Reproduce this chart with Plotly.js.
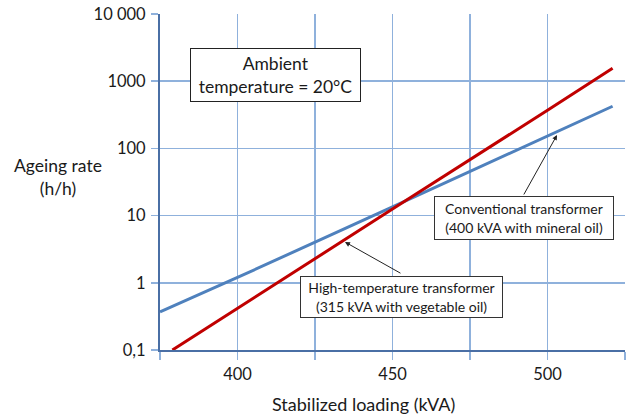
<!DOCTYPE html>
<html>
<head>
<meta charset="utf-8">
<script src="https://cdn.plot.ly/plotly-3.0.1.min.js"></script>
<style>html,body{margin:0;padding:0;background:#fff;}#chart{width:626px;height:414px;}</style>
</head>
<body>
<div id="chart"></div>
<script>
// Data (stabilized loading in kVA, ageing rate in h/h)
const conventionalLoading = [375, 400, 450, 500, 521];
const conventionalAgeing = [0.37, 1.2, 13.5, 150, 424];
const highTempLoading = [379, 400, 450, 500, 521];
const highTempAgeing = [0.1, 0.42, 12.5, 370, 1560];

const xTickVals = [375, 400, 425, 450, 475, 500, 525];
const xTickText = ['', '400', '', '450', '', '500', ''];
const yTickVals = [0.1, 1, 10, 100, 1000, 10000];
const yTickText = ['0,1', '1', '10', '100', '1000', '10 000'];

const FONT = 'Lato, "Open Sans", sans-serif';
const GRID = '#8fb1dc';
const AXIS = '#4a6fa5';
const TXT = '#1a1a1a';

const traces = [
  {x: conventionalLoading, y: conventionalAgeing, mode: 'lines', line: {color: '#4f81bd', width: 3}, name: 'Conventional transformer'},
  {x: highTempLoading, y: highTempAgeing, mode: 'lines', line: {color: '#c00000', width: 3}, name: 'High-temperature transformer'}
];

const layout = {
  width: 626, height: 414,
  margin: {l: 160, r: 1, t: 14, b: 64},
  paper_bgcolor: '#fff', plot_bgcolor: '#fff',
  showlegend: false,
  font: {family: FONT, size: 16, color: TXT},
  xaxis: {
    range: [375, 525], tickvals: xTickVals, ticktext: xTickText,
    showgrid: true, gridcolor: GRID, gridwidth: 1.5,
    showline: true, linecolor: AXIS, linewidth: 2,
    ticks: 'outside', ticklen: 8, tickcolor: GRID, tickwidth: 1.5,
    tickfont: {family: FONT, size: 16.5, color: TXT},
    zeroline: false, fixedrange: true
  },
  yaxis: {
    type: 'log', range: [-1, 4], tickvals: yTickVals, ticktext: yTickText,
    showgrid: true, gridcolor: GRID, gridwidth: 1.5,
    showline: true, linecolor: AXIS, linewidth: 2,
    ticks: 'outside', ticklen: 7, tickcolor: GRID, tickwidth: 1.5,
    ticklabelstandoff: 2,
    tickfont: {family: FONT, size: 16.5, color: TXT},
    zeroline: false, fixedrange: true
  },
  annotations: [
    {xref: 'paper', yref: 'paper', x: -0.219, y: 0.515, text: 'Ageing rate<br>(h/h)', showarrow: false,
     font: {family: FONT, size: 17.5, color: TXT}, xanchor: 'center', yanchor: 'middle'},
    {xref: 'paper', yref: 'paper', x: 0.4366, y: -0.16, text: 'Stabilized loading (kVA)', showarrow: false,
     font: {family: FONT, size: 18, color: TXT}, xanchor: 'center', yanchor: 'middle'},
    {xref: 'paper', yref: 'paper', x: 0.248, y: 0.818, text: 'Ambient<br>temperature = 20°C', showarrow: false,
     font: {family: FONT, size: 17.5, color: TXT}, bgcolor: '#fff', bordercolor: '#222', borderwidth: 1, borderpad: 3,
     width: 163, height: 46, xanchor: 'center', yanchor: 'middle'},
    {xref: 'paper', yref: 'paper', x: 0.7828, y: 0.3929, text: 'Conventional transformer<br>(400 kVA with mineral oil)', showarrow: false,
     font: {family: FONT, size: 14, color: TXT}, bgcolor: '#fff', bordercolor: '#333', borderwidth: 1, borderpad: 3,
     width: 172, height: 36, xanchor: 'center', yanchor: 'middle'},
    {xref: 'paper', yref: 'paper', x: 0.5194, y: 0.1577, text: 'High-temperature transformer<br>(315 kVA with vegetable oil)', showarrow: false,
     font: {family: FONT, size: 14, color: TXT}, bgcolor: '#fff', bordercolor: '#333', borderwidth: 1, borderpad: 3,
     width: 195, height: 34, xanchor: 'center', yanchor: 'middle'},
    {xref: 'paper', yref: 'paper', x: 0.8538, y: 0.6399, ax: -34, ay: 61, text: '', showarrow: true,
     arrowhead: 2, arrowsize: 1, arrowwidth: 1, arrowcolor: '#222'},
    {xref: 'paper', yref: 'paper', x: 0.3978, y: 0.3214, ax: 57, ay: 32, text: '', showarrow: true,
     arrowhead: 2, arrowsize: 1, arrowwidth: 1, arrowcolor: '#222'}
  ]
};

Plotly.newPlot('chart', traces, layout, {displayModeBar: false, staticPlot: true});
</script>
</body>
</html>
